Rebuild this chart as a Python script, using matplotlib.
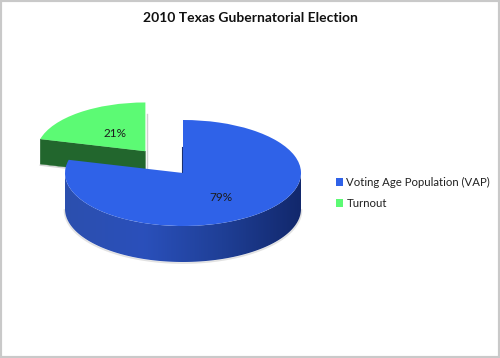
import numpy as np
import matplotlib
matplotlib.use("Agg")
import matplotlib.pyplot as plt
from matplotlib.colors import LinearSegmentedColormap
from matplotlib.patches import Polygon

title = "2010 Texas Gubernatorial Election"
labels = ["Voting Age Population (VAP)", "Turnout"]
values = [79, 21]
explode = [0, 0.52]

plt.rcParams['font.family'] = ['Lato', 'DejaVu Sans']

fig = plt.figure(figsize=(5, 3.58), dpi=100)
ax = fig.add_axes([0, 0, 1, 1])

# pie is squashed by the axes limits: one radius is 118 px wide, 53 px tall
cx, cy, rx, ry = 183, 173, 118, 53
wedges, texts, pcts = ax.pie(values, startangle=90, counterclock=False, explode=explode,
                             colors=["#2f62e8", "#5cfa74"], autopct='%d%%', pctdistance=0.6,
                             textprops={'fontsize': 8.5, 'color': '#1c1c1c'})

blue, green = wedges
green.set_radius(0.92)
blue.set_zorder(5)
green.set_zorder(3)
pcts[0].set_zorder(6)
pcts[1].set_zorder(6)
pcts[0].set_position((0.32, -0.47))
pcts[1].set_position((-0.58, 0.74))

# blue side wall, shaded along the front of the ellipse
side_cmap = LinearSegmentedColormap.from_list("side", ["#2c4fae", "#2a50bb", "#1f3f96", "#12286c"])
blue_h = 36 / ry
t = np.linspace(np.pi, 2 * np.pi, 200)
wall = np.vstack([np.c_[np.cos(t), np.sin(t)], np.c_[np.cos(t[::-1]), np.sin(t[::-1]) - blue_h]])
wall_patch = Polygon(wall, closed=True, transform=ax.transData, fc='none', ec='none')
ax.add_patch(wall_patch)
im = ax.imshow(np.linspace(0, 1, 256).reshape(1, -1), cmap=side_cmap, extent=(-1, 1, -1 - blue_h, 0),
               aspect='auto', zorder=4)
im.set_clip_path(wall_patch)

# soft shadow under the wall
ax.plot(np.cos(t) * 1.004, np.sin(t) - blue_h - 0.02, color="#e2e2e2", lw=1.2, zorder=2)

# green front face
green_h = 25 / ry
ang = np.deg2rad(90 - 360 * values[0] / sum(values))
gx0, gy0 = green.center
tip_x = gx0 + 0.92 * np.cos(ang)
tip_y = gy0 + 0.92 * np.sin(ang)
ax.fill([gx0, tip_x, tip_x, gx0], [gy0, tip_y, tip_y - green_h, gy0 - green_h],
        color="#22662d", lw=0.3, zorder=2.5)
ax.plot([gx0 + 0.012, gx0 + 0.012], [gy0 + 0.7, gy0 - green_h], color="#cfcfcf", lw=1, zorder=2)
ax.plot([tip_x, gx0], [tip_y - green_h - 0.02, gy0 - green_h - 0.02], color="#d5d5d5", lw=1, zorder=2)

# dark edge on the cut of the blue slice
ax.plot([-0.006, -0.006], [0.5, 0], color="#1b3170", lw=0.8, zorder=4)

ax.set_aspect('auto')
ax.set_xlim(-cx / rx, (500 - cx) / rx)
ax.set_ylim((cy - 358) / ry, cy / ry)

ax.text(0.5, 1 - 18 / 358, title, transform=ax.transAxes, ha='center', va='center',
        fontsize=10, fontweight='bold', color='#111111')

leg = ax.legend(wedges, labels, loc='center left', bbox_to_anchor=(336 / 500, 1 - 193 / 358),
                frameon=False, fontsize=8.2, handlelength=0.62, handleheight=0.62,
                handletextpad=0.3, labelspacing=0.9, borderpad=0, borderaxespad=0,
                labelcolor='#222222')
leg.set_zorder(7)

ax.set_frame_on(True)
for s in ax.spines.values():
    s.set_color('#c9c9c9')
    s.set_linewidth(3)
    s.set_zorder(8)

fig.savefig("out.png", dpi=100)
